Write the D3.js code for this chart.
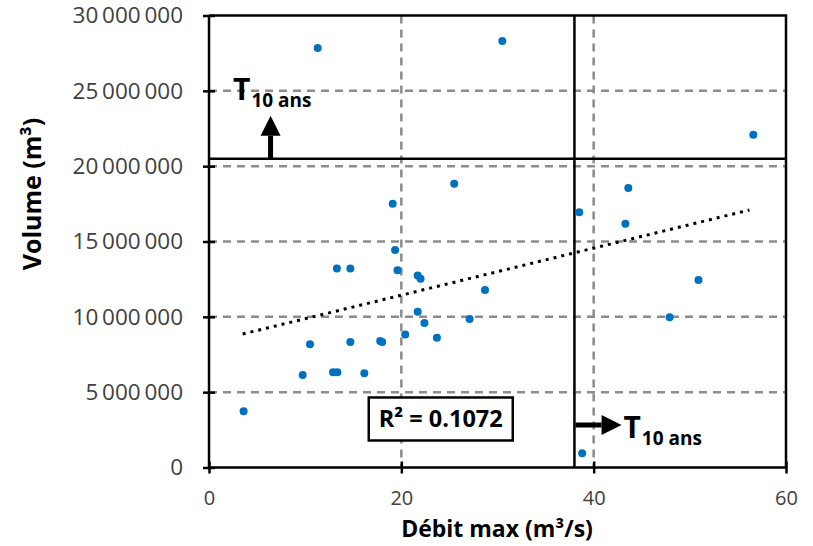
<!DOCTYPE html>
<html>
<head>
<meta charset="utf-8">
<script src="https://cdn.jsdelivr.net/npm/d3@7"></script>
<style>
  body { margin: 0; background: #fff; }
  svg { display: block; font-family: "Open Sans", sans-serif; }
</style>
</head>
<body>
<svg id="chart" width="813" height="546"></svg>
<script>
// débit max (m³/s) et volume (m³) des crues
const debit = [11.3, 30.5, 56.6, 25.5, 43.6, 19.1, 19.35, 13.3, 14.7, 19.6, 21.7, 22.0, 28.7, 21.7, 27.1, 22.4,
  20.4, 23.7, 10.5, 14.7, 17.8, 18.0, 9.74, 12.9, 13.35, 16.15, 3.6, 38.8, 38.5, 43.3, 50.9, 47.9];
const volume = [27.85, 28.3, 22.09, 18.84, 18.55, 17.5, 14.44, 13.2, 13.2, 13.1, 12.75, 12.53, 11.78, 10.34, 9.86, 9.59,
  8.82, 8.62, 8.18, 8.33, 8.4, 8.33, 6.14, 6.32, 6.32, 6.25, 3.73, 0.94, 16.94, 16.18, 12.44, 9.97].map(v => v * 1e6);

// droite de tendance (extrémités)
const trendX = [3.5, 56.2];
const trendY = [8.86e6, 17.09e6];

// seuils T10 ans
const seuilDebit = 38;
const seuilVolume = 20.5e6;

const xTicks = [0, 20, 40, 60];
const yTicks = [0, 5e6, 10e6, 15e6, 20e6, 25e6, 30e6];
const r2Label = "R² = 0.1072";

const width = 813, height = 546;
const margin = { top: 15.5, right: 27, bottom: 78.5, left: 209 };
const w = width - margin.left - margin.right;
const h = height - margin.top - margin.bottom;

const svg = d3.select('#chart');
const g = svg.append('g').attr('transform', `translate(${margin.left},${margin.top})`);

const x = d3.scaleLinear().domain([0, 60]).range([0, w]);
const y = d3.scaleLinear().domain([0, 30e6]).range([h, 0]);

const fr = d3.formatLocale({ decimal: ',', thousands: '\u2009', grouping: [3], currency: ['', ''] });
const fmt = fr.format(',d');

// grille pointillée
g.append('g').selectAll('line')
  .data(yTicks.filter(d => d > 0 && d < 30e6))
  .join('line')
  .attr('x1', 0).attr('x2', w)
  .attr('y1', d => y(d)).attr('y2', d => y(d))
  .attr('stroke', '#8c8c8c').attr('stroke-width', 2.5).attr('stroke-dasharray', '8,6');
g.append('g').selectAll('line')
  .data(xTicks.filter(d => d > 0 && d < 60))
  .join('line')
  .attr('x1', d => x(d)).attr('x2', d => x(d))
  .attr('y1', 0).attr('y2', h)
  .attr('stroke', '#8c8c8c').attr('stroke-width', 2.5).attr('stroke-dasharray', '8,6');

// cadre haut et droit
g.append('path')
  .attr('d', `M0,0H${w}V${h}`)
  .attr('fill', 'none').attr('stroke', '#000').attr('stroke-width', 2.5);

// axes
const yAxis = g.append('g')
  .call(d3.axisLeft(y).tickValues(yTicks).tickFormat(fmt).tickSize(6).tickPadding(20));
const xAxis = g.append('g')
  .attr('transform', `translate(0,${h})`)
  .call(d3.axisBottom(x).tickValues(xTicks).tickSize(6).tickPadding(17));
[yAxis, xAxis].forEach(a => {
  a.select('.domain').attr('stroke', '#000').attr('stroke-width', 2.5);
  a.selectAll('.tick line').attr('stroke', '#000').attr('stroke-width', 2.5);
  a.selectAll('.tick text').attr('fill', '#404040').style('font-family', 'Open Sans');
});
yAxis.selectAll('.tick text').style('font-size', '22.5px');
xAxis.selectAll('.tick text').style('font-size', '20px');
yAxis.selectAll('.tick line').attr('x1', 6);
xAxis.selectAll('.tick line').attr('y1', -6);
yAxis.select('.domain').attr('d', `M0,${h}V0`);
xAxis.select('.domain').attr('d', `M0,0H${w}`);

// seuils T10 ans
g.append('line')
  .attr('x1', x(seuilDebit)).attr('x2', x(seuilDebit))
  .attr('y1', 0).attr('y2', h)
  .attr('stroke', '#000').attr('stroke-width', 2.5);
g.append('line')
  .attr('x1', 0).attr('x2', w)
  .attr('y1', y(seuilVolume)).attr('y2', y(seuilVolume))
  .attr('stroke', '#000').attr('stroke-width', 2.5);

// tendance
g.append('path')
  .datum(trendX.map((d, i) => [d, trendY[i]]))
  .attr('d', d3.line().x(d => x(d[0])).y(d => y(d[1])))
  .attr('fill', 'none').attr('stroke', '#000')
  .attr('stroke-width', 3).attr('stroke-dasharray', '3,5');

// points
g.append('g').selectAll('circle')
  .data(debit.map((d, i) => [d, volume[i]]))
  .join('circle')
  .attr('cx', d => x(d[0])).attr('cy', d => y(d[1]))
  .attr('r', 4).attr('fill', '#0070c0');

// flèches
function arrow(x1, y1, x2, y2) {
  const a = Math.atan2(y2 - y1, x2 - x1), hl = 20, hw = 10;
  const bx = x2 - hl * Math.cos(a), by = y2 - hl * Math.sin(a);
  g.append('line').attr('x1', x1).attr('y1', y1).attr('x2', bx).attr('y2', by)
    .attr('stroke', '#000').attr('stroke-width', 5);
  g.append('path')
    .attr('d', `M${x2},${y2}L${bx - hw * Math.sin(a)},${by + hw * Math.cos(a)}L${bx + hw * Math.sin(a)},${by - hw * Math.cos(a)}Z`)
    .attr('fill', '#000');
}
arrow(x(6.4), y(seuilVolume), x(6.4), y(23.35e6));
arrow(x(seuilDebit) + 1, y(2.82e6), x(42.9), y(2.82e6));

function tLabel(px, py) {
  const t = g.append('text').attr('x', px).attr('y', py)
    .attr('font-weight', 'bold').attr('fill', '#000');
  t.append('tspan').style('font-size', '30px').text('T');
  t.append('tspan').attr('dy', 7).attr('dx', 1).style('font-size', '19px').text('10 ans');
}
tLabel(x(2.5), y(24.4e6));
tLabel(x(43.1), y(1.98e6));

// R²
const rx = x(24.1), ry = y(3.22e6);
g.append('rect')
  .attr('x', rx - 72).attr('y', ry - 21.5).attr('width', 144).attr('height', 43)
  .attr('fill', '#fff').attr('stroke', '#000').attr('stroke-width', 2.5);
g.append('text')
  .attr('x', rx).attr('y', ry).attr('dy', '0.35em')
  .attr('text-anchor', 'middle').attr('font-weight', 'bold')
  .style('font-size', '23.5px').text(r2Label);

// titres
svg.append('text')
  .attr('x', 497).attr('y', 537)
  .attr('text-anchor', 'middle').attr('font-weight', 'bold')
  .style('font-size', '23px').text('Débit max (m³/s)');
svg.append('text')
  .attr('transform', 'translate(41,194) rotate(-90)')
  .attr('text-anchor', 'middle').attr('font-weight', 'bold')
  .style('font-size', '25px').text('Volume (m³)');
</script>
</body>
</html>
